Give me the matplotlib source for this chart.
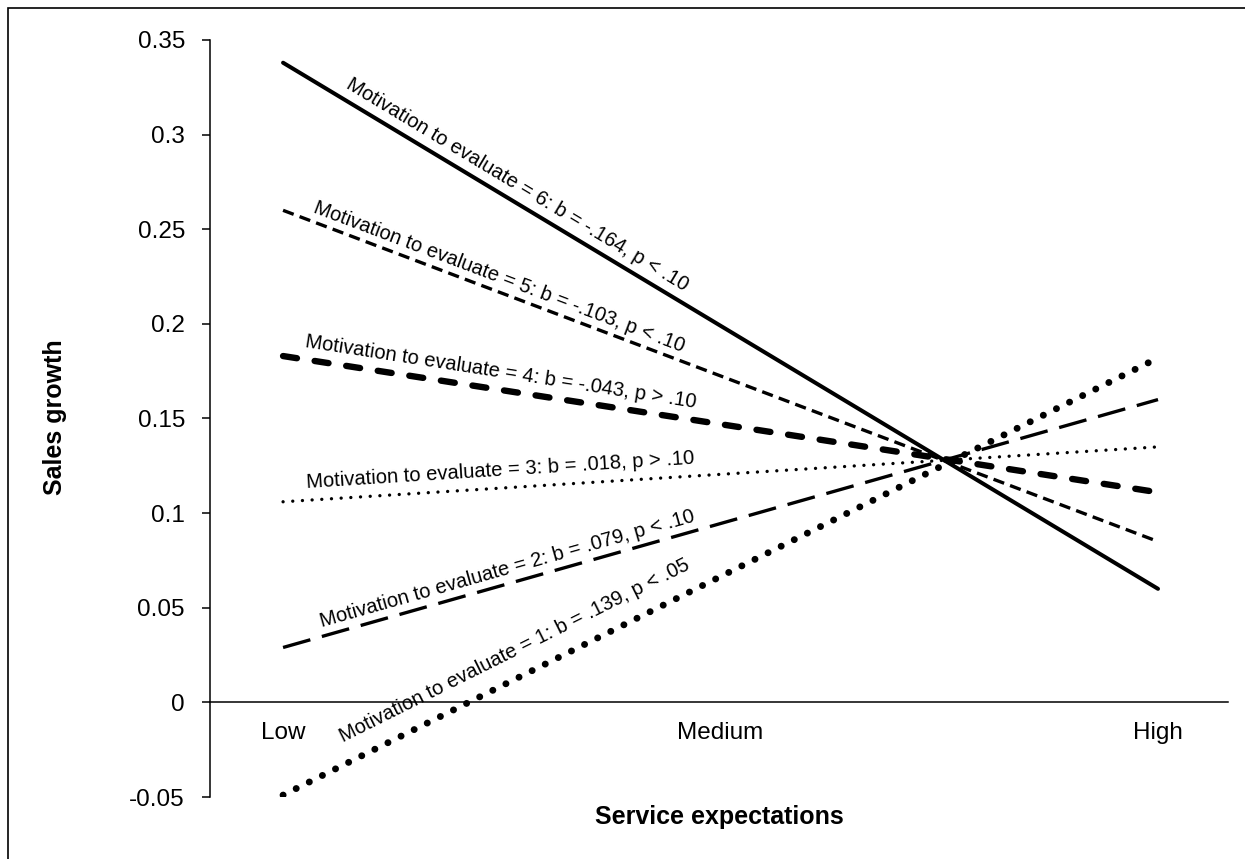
import numpy as np
import matplotlib
matplotlib.use('Agg')
import matplotlib.pyplot as plt
from matplotlib.patches import Rectangle

plt.rcParams['font.family'] = ['Liberation Sans', 'DejaVu Sans']

# Simple slopes of sales growth at low and high service expectations
categories = ['Low', 'Medium', 'High']
x_ends = [0, 2]
motivation = [6, 5, 4, 3, 2, 1]
low_vals = [0.338, 0.260, 0.183, 0.106, 0.029, -0.049]
high_vals = [0.060, 0.085, 0.111, 0.135, 0.160, 0.182]
slopes = ['-.164', '-.103', '-.043', '.018', '.079', '.139']
pvals = ['p < .10', 'p < .10', 'p > .10', 'p > .10', 'p < .10', 'p < .05']

# line style per series: (linewidth, dash pattern, capstyle)
styles = {
    6: dict(lw=2.9, ls='-', cap='round'),
    5: dict(lw=2.4, ls=(0, (3.4, 1.9)), cap='butt'),
    4: dict(lw=4.6, ls=(0, (2.2, 2.8)), cap='round'),
    3: dict(lw=2.4, ls=(0, (0.01, 2.9)), cap='round'),
    2: dict(lw=2.4, ls=(0, (8.5, 3.6)), cap='butt'),
    1: dict(lw=5.0, ls=(0, (0.01, 2.1)), cap='round'),
}
# where each label starts along the line (data x) and its gap above it (px)
label_x = {6: 0.129, 5: 0.060, 4: 0.046, 3: 0.057, 2: 0.095, 1: 0.158}
label_gap = {6: 11, 5: 8.5, 4: 12.5, 3: 12.5, 2: 9.3, 1: 20}

fig = plt.figure(figsize=(12.45, 8.59), dpi=100)
ax = fig.add_axes([210/1245, 1-797/859, (1228-210)/1245, (797-40)/859])
ax.set_xlim(-0.167, 2.16)
ax.set_ylim(-0.05, 0.35)

for m, lo, hi in zip(motivation, low_vals, high_vals):
    st = styles[m]
    ax.plot(x_ends, [lo, hi], color='black', lw=st['lw'], linestyle=st['ls'],
            dash_capstyle=st['cap'], solid_capstyle=st['cap'])

# labels along each line
for m, lo, hi, b, p in zip(motivation, low_vals, high_vals, slopes, pvals):
    p0 = ax.transData.transform((x_ends[0], lo))
    p1 = ax.transData.transform((x_ends[1], hi))
    ang = np.degrees(np.arctan2(p1[1]-p0[1], p1[0]-p0[0]))
    xs = label_x[m]
    ys = lo + (hi-lo) * (xs - x_ends[0]) / (x_ends[1] - x_ends[0])
    a = np.radians(ang)
    d = label_gap[m] * 0.72
    ax.annotate(f'Motivation to evaluate = {m}: b = {b}, {p}', xy=(xs, ys),
                xytext=(-np.sin(a)*d, np.cos(a)*d), textcoords='offset points',
                rotation=ang, rotation_mode='anchor', ha='left', va='baseline',
                fontsize=14.5)

ax.spines['top'].set_visible(False)
ax.spines['right'].set_visible(False)
ax.spines['bottom'].set_position(('data', 0))
ax.spines['left'].set_linewidth(1.1)
ax.spines['bottom'].set_linewidth(1.1)

ax.set_xticks([0, 1, 2])
ax.set_xticklabels(categories)
ax.tick_params(axis='x', length=0, pad=14, labelsize=17.5)
ax.set_yticks(np.arange(-0.05, 0.351, 0.05))
ax.set_yticklabels(['-0.05', '0', '0.05', '0.1', '0.15', '0.2', '0.25', '0.3', '0.35'])
ax.tick_params(axis='y', length=6, width=1.1, pad=12, labelsize=17.5)

fig.text(719/1245, 1-817/859, 'Service expectations', ha='center', va='center',
         fontsize=18, fontweight='bold')
fig.text(55/1245, 1-417/859, 'Sales growth', ha='center', va='center',
         rotation=90, fontsize=18, fontweight='bold')

# outer frame
fig.patches.append(Rectangle((8/1245, -0.1), 1.2, 1.1 - 8/859, transform=fig.transFigure,
                             fill=False, edgecolor='black', lw=1.2))

fig.savefig('out.png', dpi=100)
